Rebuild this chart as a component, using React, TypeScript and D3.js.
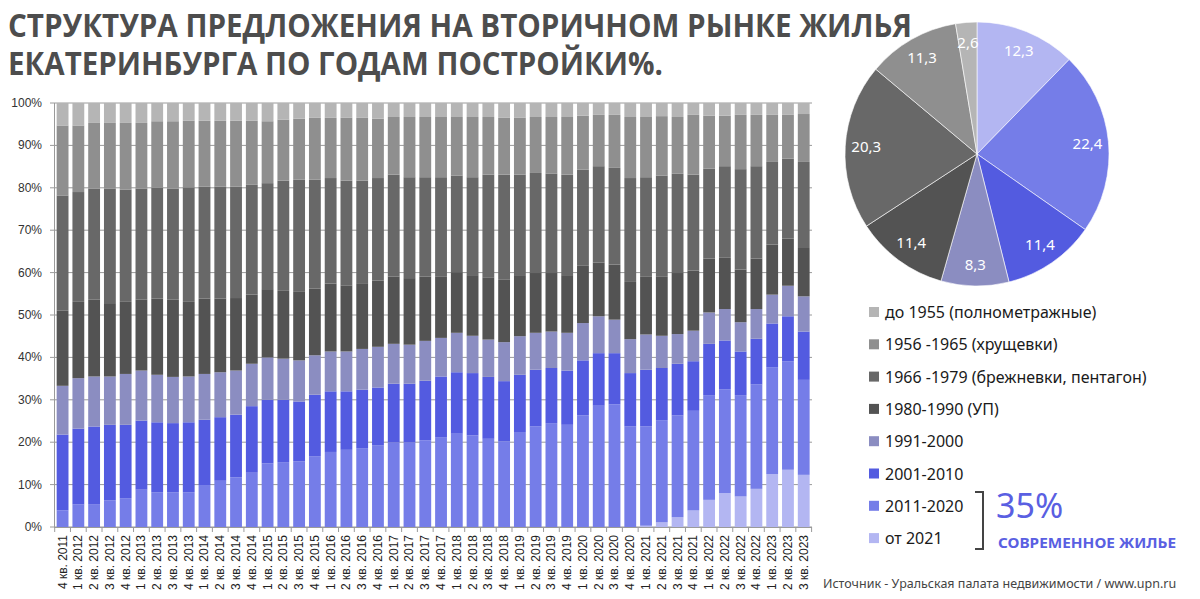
import React from "react";
import * as d3 from "d3";

const quarters = [
  "4 кв. 2011",
  "1 кв. 2012", "2 кв. 2012", "3 кв. 2012", "4 кв. 2012",
  "1 кв. 2013", "2 кв. 2013", "3 кв. 2013", "4 кв. 2013",
  "1 кв. 2014", "2 кв. 2014", "3 кв. 2014", "4 кв. 2014",
  "1 кв. 2015", "2 кв. 2015", "3 кв. 2015", "4 кв. 2015",
  "1 кв. 2016", "2 кв. 2016", "3 кв. 2016", "4 кв. 2016",
  "1 кв. 2017", "2 кв. 2017", "3 кв. 2017", "4 кв. 2017",
  "1 кв. 2018", "2 кв. 2018", "3 кв. 2018", "4 кв. 2018",
  "1 кв. 2019", "2 кв. 2019", "3 кв. 2019", "4 кв. 2019",
  "1 кв. 2020", "2 кв. 2020", "3 кв. 2020", "4 кв. 2020",
  "1 кв. 2021", "2 кв. 2021", "3 кв. 2021", "4 кв. 2021",
  "1 кв. 2022", "2 кв. 2022", "3 кв. 2022", "4 кв. 2022",
  "1 кв. 2023", "2 кв. 2023", "3 кв. 2023",
];

// bottom → top
const from2021 = [0,0,0,0,0,0,0,0,0,0,0,0,0,0,0,0,0,0,0,0,0,0,0,0,0,0,0,0,0,0,0,0,0,0,0,0,0,0.3,1.1,2.3,3.9,6.4,8.0,7.2,9.0,12.5,13.5,12.3];
const y2011_2020 = [3.9,5.3,5.4,6.3,6.8,8.8,8.2,8.2,8.2,9.9,10.9,11.7,12.8,15.0,15.3,15.5,16.7,17.7,18.2,18.6,19.2,20.0,20.0,20.4,21.2,22.0,21.6,20.8,20.2,22.4,23.7,24.5,24.1,26.3,28.6,28.9,23.7,23.4,24.1,24.0,23.5,24.7,24.5,23.9,24.6,25.2,25.6,22.4];
const y2001_2010 = [17.9,17.9,18.3,17.8,17.3,16.3,16.5,16.3,16.5,15.4,15.0,14.8,15.7,15.0,14.7,14.1,14.5,14.3,13.8,13.8,13.7,13.8,13.8,14.1,14.3,14.5,14.7,14.6,14.2,13.5,13.4,13.0,12.8,13.0,12.4,12.1,12.6,13.4,12.3,12.2,11.7,12.1,11.5,10.3,10.8,10.3,10.6,11.4];
const y1991_2000 = [11.5,11.9,11.8,11.4,12.0,11.8,11.2,10.9,10.8,10.8,10.6,10.4,10.0,10.0,9.7,9.7,9.3,9.4,9.4,9.6,9.6,9.4,9.2,9.4,9.1,9.3,8.8,8.8,9.2,9.1,8.7,8.6,8.9,8.8,8.7,7.9,8.0,8.3,7.6,7.0,7.2,7.4,7.4,6.9,7.0,6.8,7.2,8.3];
const y1980_1990 = [17.7,18.0,18.1,17.3,17.0,16.7,18.0,18.2,17.6,17.8,17.4,17.1,16.3,16.1,16.0,16.3,15.7,16.0,15.6,15.5,15.6,15.9,15.7,15.2,14.4,14.3,14.3,14.7,14.7,14.4,14.1,13.8,13.6,13.5,12.7,13.0,13.5,13.6,13.9,14.4,14.2,12.7,12.2,12.4,11.9,11.8,11.1,11.4];
const y1966_1979 = [27.2,25.9,26.2,27.0,26.5,26.2,26.1,26.2,27.0,26.4,26.4,26.3,25.9,25.0,26.0,26.3,25.7,24.9,24.7,24.2,24.2,24.0,23.8,23.4,23.5,22.8,23.1,24.2,24.8,23.7,23.6,23.4,23.7,22.7,22.7,22.8,24.5,23.5,23.9,23.4,22.6,21.2,21.5,23.7,21.8,19.5,18.9,20.3];
const y1956_1965 = [16.5,15.7,15.5,15.5,15.7,15.5,15.7,15.9,15.7,15.5,15.5,15.5,15.1,14.6,14.4,14.4,14.6,14.2,14.8,14.8,14.0,13.6,14.2,14.2,14.2,13.8,14.2,13.6,13.4,13.4,13.2,13.4,13.6,12.7,12.1,12.5,14.4,14.2,14.0,13.4,14.1,12.5,11.9,12.8,12.1,11.1,10.3,11.3];
const before1955 = [5.3,5.3,4.7,4.7,4.7,4.7,4.3,4.3,4.2,4.2,4.2,4.2,4.2,4.3,3.9,3.7,3.5,3.5,3.5,3.5,3.7,3.3,3.3,3.3,3.3,3.3,3.3,3.3,3.5,3.5,3.3,3.3,3.3,3.0,2.8,2.8,3.3,3.3,3.1,3.3,2.8,3.0,3.0,2.8,2.8,2.8,2.8,2.6];

const seriesKeys = ["from2021", "y2011_2020", "y2001_2010", "y1991_2000", "y1980_1990", "y1966_1979", "y1956_1965", "before1955"];
const seriesArrays = [from2021, y2011_2020, y2001_2010, y1991_2000, y1980_1990, y1966_1979, y1956_1965, before1955];
const seriesColors = ["#b3b6f2", "#757de8", "#535be0", "#8b8dc1", "#535353", "#686868", "#8f8f8f", "#b5b5b5"];

// pie: last quarter, clockwise from top
const pieValues = [12.3, 22.4, 11.4, 8.3, 11.4, 20.3, 11.3, 2.6];
const pieLabels = ["12,3", "22,4", "11,4", "8,3", "11,4", "20,3", "11,3", "2,6"];

// legend, top → bottom
const legendLabels = [
  "до 1955 (полнометражные)",
  "1956 -1965 (хрущевки)",
  "1966 -1979 (брежневки, пентагон)",
  "1980-1990 (УП)",
  "1991-2000",
  "2001-2010",
  "2011-2020",
  "от 2021",
];
const legendColors = ["#b5b5b5", "#8f8f8f", "#686868", "#535353", "#8b8dc1", "#535be0", "#757de8", "#b3b6f2"];

const yTicks = [0, 0.1, 0.2, 0.3, 0.4, 0.5, 0.6, 0.7, 0.8, 0.9, 1];

export default function App() {
  const W = 1200, H = 599;
  const rows = quarters.map((q, i) => {
    const r: any = { q };
    seriesKeys.forEach((k, j) => (r[k] = seriesArrays[j][i]));
    return r;
  });
  const stacked = d3.stack<any>().keys(seriesKeys).offset(d3.stackOffsetExpand)(rows);

  const x = d3.scaleBand<string>().domain(quarters).range([54.3, 812]).paddingInner(0.25).paddingOuter(0.15);
  const y = d3.scaleLinear().domain([0, 1]).range([527, 103]);
  const pct = d3.format(".0%");

  const pieGen = d3.pie<number>().sort(null).value((d) => d);
  const arcs = pieGen(pieValues);
  const R = 132;
  const arcGen = d3.arc<any>().innerRadius(0).outerRadius(R);
  const labelArc = d3.arc<any>().innerRadius(111).outerRadius(111);
  const cx = 977, cy = 154;

  const step = x.step();
  const boundaries = quarters.map((q) => (x(q) as number) - (step * x.paddingInner()) / 2);
  boundaries.push((x(quarters[quarters.length - 1]) as number) + x.bandwidth() + (step * x.paddingInner()) / 2);

  const legendY0 = 312;
  const legendStep = 32.3;

  return (
    <svg width={W} height={H} style={{ display: "block", position: "absolute", left: 0, top: 0 }} fontFamily="'Noto Sans', sans-serif">
      <rect width={W} height={H} fill="#ffffff" />
      {/* Title */}
      <text x={8} y={37} fontSize={32} fontWeight={700} fill="#4d4d4d" fontFamily="'Open Sans', sans-serif" textLength={904} lengthAdjust="spacingAndGlyphs">
        СТРУКТУРА ПРЕДЛОЖЕНИЯ НА ВТОРИЧНОМ РЫНКЕ ЖИЛЬЯ
      </text>
      <text x={8} y={75} fontSize={32} fontWeight={700} fill="#4d4d4d" fontFamily="'Open Sans', sans-serif" textLength={655} lengthAdjust="spacingAndGlyphs">
        ЕКАТЕРИНБУРГА ПО ГОДАМ ПОСТРОЙКИ%.
      </text>

      {/* gridlines */}
      {yTicks.map((t) => (
        <line key={"g" + t} x1={50} x2={812} y1={y(t)} y2={y(t)} stroke="#9a9a9a" strokeWidth={1} />
      ))}
      {/* y axis */}
      <line x1={54.5} x2={54.5} y1={103} y2={527} stroke="#9a9a9a" />
      {yTicks.map((t) => (
        <text key={"yl" + t} x={42} y={y(t) + 4} fontSize={12} fill="#333" textAnchor="end" fontFamily="'Liberation Sans', Arial, sans-serif">
          {pct(t)}
        </text>
      ))}

      {/* bars */}
      {stacked.map((s, si) => (
        <g key={s.key} fill={seriesColors[si]}>
          {s.map((d, i) => {
            const h = y(d[0]) - y(d[1]);
            if (h <= 0) return null;
            return <rect key={i} x={x(quarters[i])} width={x.bandwidth()} y={y(d[1])} height={h} />;
          })}
        </g>
      ))}

      {/* x axis */}
      <line x1={54} x2={812} y1={527.5} y2={527.5} stroke="#9a9a9a" />
      {boundaries.map((b, i) => (
        <line key={"xt" + i} x1={b} x2={b} y1={527} y2={532} stroke="#9a9a9a" />
      ))}
      {quarters.map((q) => {
        const cxq = (x(q) as number) + x.bandwidth() / 2;
        return (
          <text key={"xl" + q} transform={`translate(${cxq + 4},535) rotate(-90)`} fontSize={12} fill="#222" textAnchor="end" fontFamily="'Liberation Sans', Arial, sans-serif">
            {q}
          </text>
        );
      })}

      {/* pie */}
      <g transform={`translate(${cx},${cy})`}>
        {arcs.map((a, i) => (
          <path key={"p" + i} d={arcGen(a) as string} fill={seriesColors[i]} stroke="#ffffff" strokeWidth={0.6} />
        ))}
        {arcs.map((a, i) => {
          const [lx, ly] = labelArc.centroid(a);
          return (
            <text key={"pl" + i} x={lx} y={ly + 5} fontSize={15} fill="#ffffff" textAnchor="middle" fontFamily="'Noto Sans', sans-serif">
              {pieLabels[i]}
            </text>
          );
        })}
      </g>

      {/* legend */}
      {legendLabels.map((l, i) => (
        <g key={"lg" + i} transform={`translate(0,${legendY0 + i * legendStep})`}>
          <rect x={869} y={-5} width={10} height={10} fill={legendColors[i]} />
          <text x={885} y={6} fontSize={16} fill="#1a1a1a" fontFamily="'Noto Sans', sans-serif">
            {l}
          </text>
        </g>
      ))}

      {/* bracket */}
      <path d="M975,492 H983 V549 H975" fill="none" stroke="#444" strokeWidth={2} />
      <text x={996} y={518} fontSize={34} fill="#5a5fe2" fontFamily="'Noto Sans', sans-serif">
        35%
      </text>
      <text x={998} y={548} fontSize={14} fontWeight={700} fill="#5a5fe2" fontFamily="'Noto Sans', sans-serif" textLength={178} lengthAdjust="spacingAndGlyphs">
        СОВРЕМЕННОЕ ЖИЛЬЕ
      </text>

      {/* source */}
      <text x={823} y={588} fontSize={12.5} fill="#444" fontFamily="'Noto Sans', sans-serif">
        Источник - Уральская палата недвижимости / www.upn.ru
      </text>
    </svg>
  );
}
